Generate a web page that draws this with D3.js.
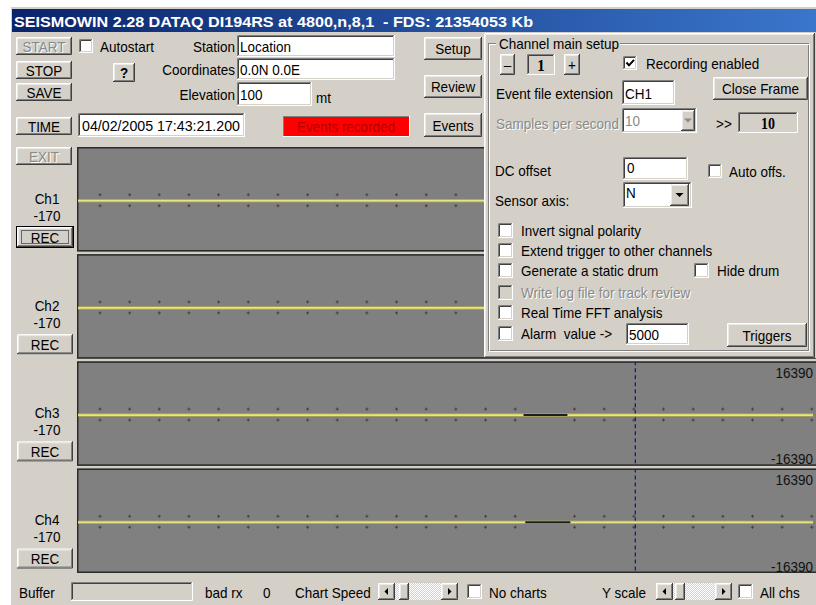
<!DOCTYPE html>
<html>
<head>
<meta charset="utf-8">
<script src="https://cdn.jsdelivr.net/npm/d3@7"></script>
<style>
body { margin: 0; background: #fff; }
svg { display: block; }
text { font-family: "Liberation Sans", Arial, sans-serif; font-size: 13.5px; white-space: pre; }
</style>
</head>
<body>
<svg id="win" width="816" height="605"></svg>
<script>
// ---- data ----
const titleText = "SEISMOWIN 2.28 DATAQ DI194RS at 4800,n,8,1  - FDS: 21354053 Kb";
const channels = ["Ch1", "Ch2", "Ch3", "Ch4"];
const channelGain = [-170, -170, -170, -170];
const yLimits = [-16390, 16390];
// trace samples (seconds, counts) - all channels are flat at zero
const traceTimes = [-0.74, 24.04];
const ch1Values = [0, 0];
const ch2Values = [0, 0];
const ch3Values = [0, 0];
const ch4Values = [0, 0];
// data drop-outs drawn as a black segment (seconds)
const dropStart = [null, null, 14.28, 14.34];
const dropEnd = [null, null, 15.76, 15.86];
// trigger marker (seconds)
const triggerTime = 18.05;
const stationInfo = ["Location", "0.0N 0.0E", "100"];
const clockText = "04/02/2005 17:43:21.200";
const optionLabels = ["Invert signal polarity", "Extend trigger to other channels",
  "Generate a static drum", "Write log file for track review", "Real Time FFT analysis", "Alarm  value ->"];

const FACE = "#d4d0c8";
const svg = d3.select("#win");
const defs = svg.append("defs");
const num = v => String(v);

const grad = defs.append("linearGradient").attr("id", "tb");
grad.append("stop").attr("offset", "0%").attr("stop-color", "#0a246a");
grad.append("stop").attr("offset", "100%").attr("stop-color", "#3a76cc");

const pat = defs.append("pattern").attr("id", "chk").attr("width", 2).attr("height", 2)
  .attr("patternUnits", "userSpaceOnUse");
pat.append("rect").attr("width", 2).attr("height", 2).attr("fill", FACE);
pat.append("rect").attr("width", 1).attr("height", 1).attr("fill", "#fff");
pat.append("rect").attr("x", 1).attr("y", 1).attr("width", 1).attr("height", 1).attr("fill", "#fff");

// ---- little widget helpers ----
function label(g, x, y, str, o = {}) {
  const t = g.append("text")
    .attr("transform", `translate(${x},${y}) scale(1,${o.sy || 1.14})`)
    .attr("dy", "0.36em")
    .attr("text-anchor", o.anchor || "start")
    .attr("fill", o.fill || "#000")
    .text(str);
  if (o.size) t.style("font-size", o.size + "px");
  if (o.bold) t.attr("font-weight", "bold");
  if (o.serif) t.style("font-family", "'Liberation Serif', 'DejaVu Serif', serif");
  if (o.len) t.attr("textLength", o.len).attr("lengthAdjust", "spacingAndGlyphs");
  return t;
}
function dimLabel(g, x, y, str, o = {}) {
  label(g, x + 1, y + 1, str, Object.assign({}, o, { fill: "#ffffff" }));
  label(g, x, y, str, Object.assign({}, o, { fill: "#8a8a8a" }));
}
function poly(g, pts, c) {
  g.append("polyline").attr("points", pts.map(p => p.join(",")).join(" "))
    .attr("fill", "none").attr("stroke", c).attr("stroke-width", 1);
}
function bevel(g, x, y, w, h, c1, c2, c3, c4) {
  poly(g, [[x + 0.5, y + h - 1], [x + 0.5, y + 0.5], [x + w - 1, y + 0.5]], c1);
  poly(g, [[x, y + h - 0.5], [x + w - 0.5, y + h - 0.5], [x + w - 0.5, y]], c2);
  if (c3) {
    poly(g, [[x + 1.5, y + h - 2], [x + 1.5, y + 1.5], [x + w - 2, y + 1.5]], c3);
    poly(g, [[x + 1, y + h - 1.5], [x + w - 1.5, y + h - 1.5], [x + w - 1.5, y + 1]], c4);
  }
}
function box(g, x, y, w, h, fill) {
  return g.append("rect").attr("x", x).attr("y", y).attr("width", w).attr("height", h).attr("fill", fill);
}
function button(g, x, y, w, h, str, o = {}) {
  box(g, x, y, w, h, FACE);
  bevel(g, x, y, w, h, "#ffffff", "#404040", "#ececec", "#808080");
  if (o.disabled) dimLabel(g, x + w / 2, y + h / 2, str, { anchor: "middle" });
  else if (str) label(g, x + w / 2, y + h / 2, str, { anchor: "middle", bold: o.bold, serif: o.serif });
}
function field(g, x, y, w, h, fill) {
  box(g, x, y, w, h, fill || "#ffffff");
  bevel(g, x, y, w, h, "#808080", "#ffffff", "#404040", FACE);
}
function checkbox(g, x, y, s, checked, disabled) {
  field(g, x, y, s, s, disabled ? FACE : "#ffffff");
  if (checked) {
    g.append("path").attr("d", `M${x + 3.5},${y + s / 2 - 0.5} l2.5,2.8 l5,-5.5`)
      .attr("fill", "none").attr("stroke", "#000").attr("stroke-width", 2);
  }
}
function arrowBtn(g, x, y, w, h, dir, col) {
  button(g, x, y, w, h, "");
  const cx = x + w / 2, cy = y + h / 2;
  let d;
  if (dir === "down") d = `M${cx - 4},${cy - 2} L${cx + 4},${cy - 2} L${cx},${cy + 2} Z`;
  if (dir === "left") d = `M${cx + 1.5},${cy - 3.5} L${cx + 1.5},${cy + 3.5} L${cx - 2},${cy} Z`;
  if (dir === "right") d = `M${cx - 1.5},${cy - 3.5} L${cx - 1.5},${cy + 3.5} L${cx + 2},${cy} Z`;
  g.append("path").attr("d", d).attr("fill", col || "#000");
}
function scrollbar(g, x, y, w, h, thumbX) {
  box(g, x, y, w, h, "url(#chk)");
  arrowBtn(g, x, y, 17, h, "left");
  button(g, thumbX, y, 10, h, "");
  arrowBtn(g, x + w - 17, y, 17, h, "right");
}

// ---- window frame ----
box(svg, 0, 0, 816, 605, "#ffffff");
box(svg, 10, 6, 806, 599, FACE);
poly(svg, [[10.5, 605], [10.5, 6.5], [816, 6.5]], "#ffffff");
box(svg, 12, 9, 804, 23, "url(#tb)");
label(svg, 14, 21, titleText, { fill: "#ffffff", bold: true, size: 14, len: 519, sy: 1.1 });

// ---- top control strip ----
const strip = svg.append("g");
button(strip, 16, 37, 56, 18, "START", { disabled: true });
button(strip, 16, 61, 56, 18, "STOP");
button(strip, 16, 83, 56, 18, "SAVE");
button(strip, 16, 117, 56, 18, "TIME");
button(strip, 16, 147, 56, 18, "EXIT", { disabled: true });

checkbox(strip, 79, 39, 14, false);
label(strip, 100, 46, "Autostart");
button(strip, 113, 63, 22, 19, "?", { bold: true });

label(strip, 235, 46, "Station", { anchor: "end" });
label(strip, 235, 69, "Coordinates", { anchor: "end" });
label(strip, 235, 94, "Elevation", { anchor: "end" });
field(strip, 237, 35, 158, 22);
field(strip, 237, 58, 158, 22);
field(strip, 237, 82, 75, 24);
label(strip, 240, 46, stationInfo[0]);
label(strip, 240, 69, stationInfo[1]);
label(strip, 240, 94, stationInfo[2]);
label(strip, 316, 97, "mt");

field(strip, 78, 113, 167, 24);
label(strip, 82, 125, clockText, { len: 158 });

box(strip, 283, 116, 127, 21, "#ff0000");
bevel(strip, 283, 116, 127, 21, "#808080", "#ffffff");
label(strip, 346, 126.5, "Events recorded", { anchor: "middle", fill: "#b40000" });

button(strip, 424, 37, 58, 23, "Setup");
button(strip, 424, 75, 58, 23, "Review");
button(strip, 424, 113, 58, 24, "Events");

// ---- seismogram panels ----
const band = d3.scaleBand().domain(channels).range([147, 573]).paddingInner(0.025);
const x = d3.scaleLinear().domain(traceTimes).range([78, 813]);
const values = [ch1Values, ch2Values, ch3Values, ch4Values];
const seconds = x.ticks(24);

channels.forEach((ch, i) => {
  const y0 = band(ch), bh = band.bandwidth();
  const y = d3.scaleLinear().domain(yLimits).range([y0 + bh - 2, y0 + 5]);
  const g = svg.append("g");
  const clipId = "clip" + i;
  defs.append("clipPath").attr("id", clipId).append("rect")
    .attr("x", 78).attr("y", y0 + 1).attr("width", 740).attr("height", bh - 2);

  box(g, 77, y0, 745, bh, "#808080");
  g.append("rect").attr("x", 77.75).attr("y", y0 + 0.75).attr("width", 745).attr("height", bh - 1.5)
    .attr("fill", "none").attr("stroke", "#2a2a2a").attr("stroke-width", 1.5);

  const inner = g.append("g").attr("clip-path", `url(#${clipId})`);
  const zero = y(0);
  const inDrop = t => dropStart[i] !== null && t > dropStart[i] && t < dropEnd[i];

  // second marks above and below the trace
  seconds.filter(t => !inDrop(t)).forEach(t => {
    [zero - 6, zero + 5].forEach(yy => {
      inner.append("path")
        .attr("d", `M${x(t) - 1.5},${yy} h3 M${x(t)},${yy - 1.5} v3`)
        .attr("stroke", "#3e3030").attr("stroke-width", 1).attr("opacity", 0.8);
    });
  });

  // trigger marker
  inner.append("line").attr("x1", x(triggerTime)).attr("x2", x(triggerTime))
    .attr("y1", y0).attr("y2", y0 + bh)
    .attr("stroke", "#1c1c80").attr("stroke-width", 1.3).attr("stroke-dasharray", "4,3");

  const pts = traceTimes.map((t, k) => [t, values[i][k]]);
  const line = d3.line().x(d => x(d[0])).y(d => y(d[1]));
  inner.append("path").datum(pts).attr("d", line)
    .attr("fill", "none").attr("stroke", "#c0ba3c").attr("stroke-width", 3);
  inner.append("path").datum(pts).attr("d", line)
    .attr("fill", "none").attr("stroke", "#f4f2a0").attr("stroke-width", 1.2);

  if (dropStart[i] !== null) {
    inner.append("path").datum([[dropStart[i], 0], [dropEnd[i], 0]]).attr("d", line)
      .attr("fill", "none").attr("stroke", "#1e1e1e").attr("stroke-width", 2);
  }

  // scale limits
  label(g, 813, y0 + 11, num(yLimits[1]), { anchor: "end", fill: "#101010" });
  label(g, 813, y0 + bh - 7, num(yLimits[0]), { anchor: "end", fill: "#101010" });

  // left captions
  label(svg, 47, y0 + 51, ch, { anchor: "middle" });
  label(svg, 47, y0 + 68, num(channelGain[i]), { anchor: "middle" });
  if (i === 0) {
    svg.append("rect").attr("x", 16.5).attr("y", y0 + 79.5).attr("width", 57).attr("height", 21)
      .attr("fill", "none").attr("stroke", "#000");
    button(svg, 17, y0 + 80, 56, 20, "REC");
    svg.append("rect").attr("x", 21.5).attr("y", y0 + 83.5).attr("width", 47).attr("height", 13)
      .attr("fill", "none").attr("stroke", "#000").attr("stroke-dasharray", "1,1");
  } else {
    button(svg, 17, y0 + 80, 56, 20, "REC");
  }
});

// ---- channel main setup frame ----
const p = svg.append("g");
box(p, 484, 33, 332, 325, FACE);
bevel(p, 484, 33, 331, 325, "#ffffff", "#404040", "#ececec", "#808080");
// etched group box
p.append("rect").attr("x", 488.5).attr("y", 43.5).attr("width", 320).attr("height", 307)
  .attr("fill", "none").attr("stroke", "#808080");
p.append("rect").attr("x", 489.5).attr("y", 44.5).attr("width", 320).attr("height", 307)
  .attr("fill", "none").attr("stroke", "#ffffff");
box(p, 496, 36, 124, 14, FACE);
label(p, 499, 43, "Channel main setup");

button(p, 500, 54, 15, 21, "\u2013");
field(p, 527, 54, 28, 21, FACE);
label(p, 541, 65, "1", { anchor: "middle", bold: true, serif: true, size: 15 });
button(p, 564, 54, 16, 21, "+");
checkbox(p, 623, 56, 14, true);
label(p, 646, 63, "Recording enabled");

label(p, 496, 93, "Event file extension");
field(p, 622, 80, 53, 25);
label(p, 625, 93, "CH1");
button(p, 713, 77, 95, 23, "Close Frame");

dimLabel(p, 496, 123, "Samples per second");
field(p, 622, 108, 75, 25);
dimLabel(p, 625, 120, "10");
arrowBtn(p, 681, 110, 14, 21, "down", "#8a8a8a");
label(p, 716, 123, ">>");
field(p, 738, 112, 60, 21, FACE);
label(p, 768, 123, "10", { anchor: "middle", bold: true, serif: true, size: 14 });

label(p, 495, 170, "DC offset");
field(p, 623, 157, 65, 23);
label(p, 627, 167, "0");
checkbox(p, 708, 164, 14, false);
label(p, 729, 171, "Auto offs.");

label(p, 495, 200, "Sensor axis:");
field(p, 623, 182, 69, 26);
label(p, 626, 192, "N");
arrowBtn(p, 670, 184, 19, 22, "down");

const optY = [230, 250, 270, 292, 312, 333];
optionLabels.forEach((s, k) => {
  const disabled = k === 3;
  checkbox(p, 498, optY[k] - 7, 15, false, disabled);
  if (disabled) dimLabel(p, 521, optY[k], s);
  else label(p, 521, optY[k], s);
});
checkbox(p, 694, 263, 15, false);
label(p, 717, 270, "Hide drum");
field(p, 626, 323, 63, 22);
label(p, 629, 334, "5000");
button(p, 727, 323, 80, 24, "Triggers");

// ---- status strip ----
const st = svg.append("g");
label(st, 19, 592, "Buffer");
field(st, 71, 582, 122, 19, FACE);
label(st, 205, 592, "bad rx");
label(st, 263, 592, "0");
label(st, 295, 592, "Chart Speed");
scrollbar(st, 378, 583, 80, 17, 399);
checkbox(st, 467, 584, 15, false);
label(st, 489, 592, "No charts");
label(st, 602, 592, "Y scale");
scrollbar(st, 656, 583, 76, 17, 675);
checkbox(st, 738, 584, 15, false);
label(st, 760, 592, "All chs");
</script>
</body>
</html>
